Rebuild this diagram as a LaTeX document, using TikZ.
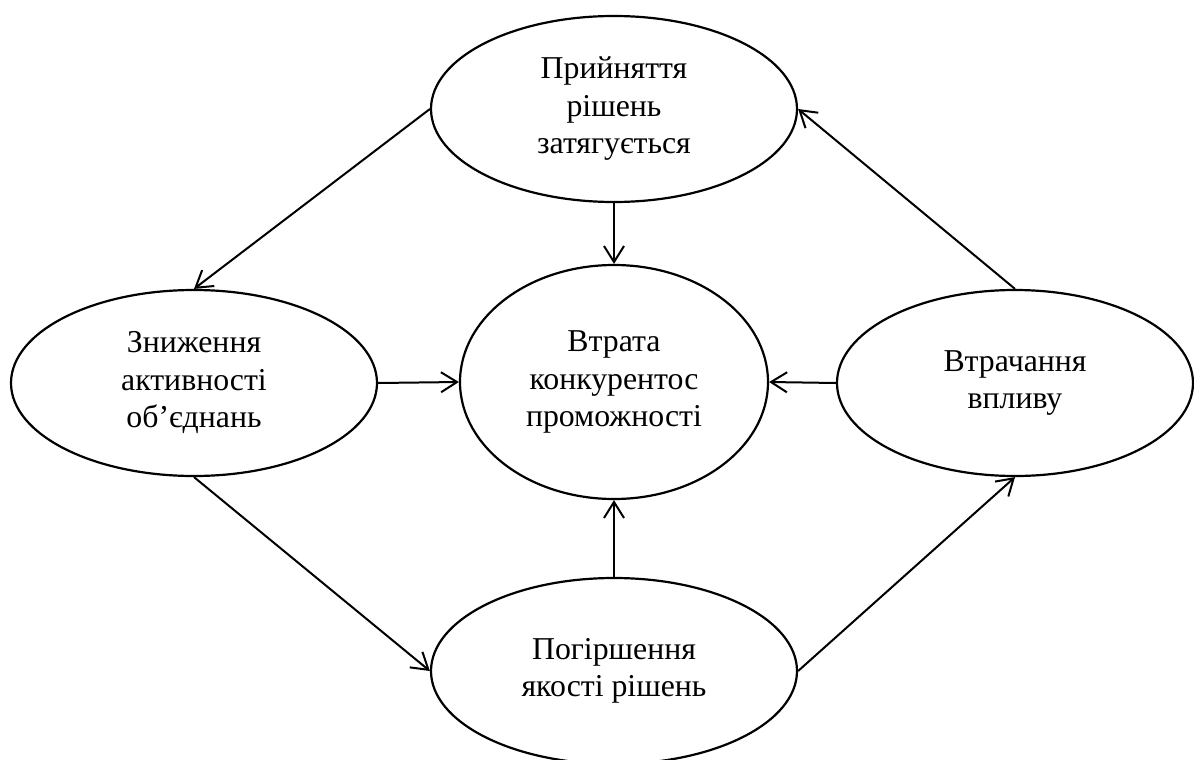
\documentclass[tikz,border=0pt]{standalone}
\usepackage{fontspec}
\setmainfont{Liberation Serif}
\usetikzlibrary{shapes.geometric,arrows.meta}
\begin{document}
\begin{tikzpicture}[x=1pt,y=-1pt,
  oval/.style={draw,ellipse,line width=2.2pt,inner sep=0pt,align=center,
    font=\fontsize{31.8}{37.5}\selectfont},
  conn/.style={line width=2pt,-{Straight Barb[length=16pt,width=20pt,line width=2pt]}}]
\useasboundingbox (0,0) rectangle (1194,760);
\node[oval,minimum width=366pt,minimum height=186pt] (top) at (614,109) {Прийняття\\рішень\\затягується};
\node[oval,minimum width=308pt,minimum height=234pt] (mid) at (614,382) {Втрата\\конкурентос\\проможності};
\node[oval,minimum width=366pt,minimum height=186pt] (left) at (194,383) {Зниження\\активності\\об’єднань};
\node[oval,minimum width=356pt,minimum height=186pt] (right) at (1015,383) {Втрачання\\впливу};
\node[oval,minimum width=366pt,minimum height=186pt] (bot) at (614,671) {Погіршення\\якості рішень};
\draw[conn] (top.west) -- (left.north);
\draw[conn] (top.south) -- (mid.north);
\draw[conn] (left.east) -- (mid.west);
\draw[conn] (right.west) -- (mid.east);
\draw[conn] (bot.north) -- (mid.south);
\draw[conn] (left.south) -- (bot.west);
\draw[conn] (bot.east) -- (right.south);
\draw[conn] (right.north) -- (top.east);
\end{tikzpicture}
\end{document}
